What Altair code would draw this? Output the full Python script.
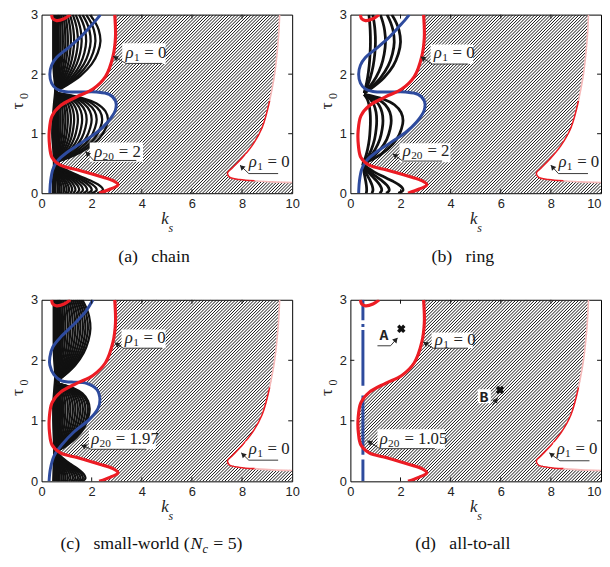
import altair as alt
import numpy as np
import pandas as pd

# ------------------------------------------------------------------ data
X_TICKS = [0, 2, 4, 6, 8, 10]
Y_TICKS = [0, 1, 2, 3]

# rho_1 = 0 boundary (same in every panel)
RED_MAIN_KS = [2.3, 2.75, 3.05, 2.85, 2.35, 1.45, 0.75, 0.42, 0.32, 0.31, 0.42, 0.75, 1.4, 2.05, 2.55, 2.85, 2.95, 2.92]
RED_MAIN_TAU = [0.0, 0.07, 0.14, 0.21, 0.28, 0.39, 0.47, 0.60, 0.80, 1.05, 1.30, 1.47, 1.62, 1.75, 1.96, 2.30, 2.62, 3.0]
RED_LOBE_KS = [0.4, 0.45, 0.6, 0.9, 1.15]
RED_LOBE_TAU = [3.0, 2.93, 2.9, 2.93, 3.0]
RED_RIGHT_KS = [9.5, 9.45, 9.3, 9.1, 8.8, 8.4, 7.95, 7.6, 7.42, 7.5, 7.9, 8.5, 9.2, 10.0]
RED_RIGHT_TAU = [3.0, 2.6, 2.0, 1.55, 1.1, 0.8, 0.57, 0.42, 0.34, 0.27, 0.23, 0.21, 0.19, 0.18]

# rho_20 curves
BLUE_AB_LOW_KS = [0.33, 0.36, 0.45, 0.65, 1.0, 1.6, 2.2, 2.65, 2.95, 2.95, 2.7, 2.2, 1.5, 0.9]
BLUE_AB_LOW_TAU = [0.0, 0.2, 0.4, 0.55, 0.68, 0.85, 1.02, 1.2, 1.4, 1.55, 1.66, 1.7, 1.7, 1.71]
BLUE_AB_UP_KS = [0.9, 0.6, 0.4, 0.33, 0.4, 0.6, 1.0, 1.5, 1.9, 2.2, 2.35]
BLUE_AB_UP_TAU = [1.71, 1.75, 1.85, 2.0, 2.15, 2.28, 2.42, 2.6, 2.78, 2.92, 3.0]
BLUE_C_LOW_KS = [0.3, 0.35, 0.5, 0.8, 1.3, 1.9, 2.25, 2.33, 2.2, 1.8, 1.2, 0.8]
BLUE_C_LOW_TAU = [0.0, 0.2, 0.42, 0.6, 0.82, 1.02, 1.2, 1.35, 1.52, 1.62, 1.64, 1.66]
BLUE_C_UP_KS = [0.8, 0.5, 0.33, 0.33, 0.45, 0.8, 1.3, 1.75, 2.05]
BLUE_C_UP_TAU = [1.66, 1.76, 1.92, 2.05, 2.22, 2.4, 2.6, 2.8, 3.0]
BLUE_D_KS = 0.5
BLUE_D_SEGS = [(0.0, 0.36), (0.44, 1.42), (1.58, 2.5), (2.55, 2.6), (2.66, 3.0)]

# black rho_i curves: arc shapes and bulge extents per panel
PB_S = [0, 0.15, 0.3, 0.45, 0.6, 0.72, 0.82, 0.9, 0.96, 1.0]
PB_F = [0, 0.12, 0.3, 0.52, 0.75, 0.9, 0.98, 1.0, 0.95, 0.88]
PM_S = [0, 0.08, 0.2, 0.35, 0.5, 0.62, 0.74, 0.85, 0.93, 1.0]
PM_F = [0, 0.3, 0.6, 0.84, 0.96, 1.0, 0.95, 0.78, 0.5, 0.0]
PT_S = [0, 0.08, 0.2, 0.35, 0.5, 0.65, 0.8, 0.9, 1.0]
PT_F = [0, 0.25, 0.55, 0.8, 0.94, 1.0, 0.96, 0.88, 0.76]

ARCS = {
    "a": dict(bot_node=(0.55, 0.52), mid_nodes=((0.55, 0.52), (0.6, 1.68)), top_node=(0.6, 1.72),
              bot=[0.65, 0.72, 0.8, 0.9, 1.0, 1.1, 1.22, 1.35, 1.5, 1.65, 1.82, 2.0, 2.2, 2.45],
              mid=[0.68, 0.76, 0.85, 0.95, 1.05, 1.17, 1.3, 1.45, 1.62, 1.8, 2.0, 2.2, 2.42, 2.65],
              top=[0.68, 0.76, 0.85, 0.95, 1.05, 1.17, 1.3, 1.45, 1.6, 1.78, 1.96, 2.15, 2.35]),
    "b": dict(bot_node=(0.5, 0.5), mid_nodes=((0.5, 0.5), (0.55, 1.66)), top_node=(0.55, 1.68),
              bot=[0.65, 0.9, 1.25, 1.55, 2.1],
              mid=[0.8, 1.05, 1.3, 1.63, 2.1],
              top=[0.8, 1.0, 1.4, 1.75, 2.0]),
    "c": dict(bot_node=(0.6, 0.5), mid_nodes=((0.6, 0.5), (0.6, 1.62)), top_node=(0.6, 1.65),
              bot=[0.65, 0.72, 0.8, 0.88, 0.96, 1.05, 1.15, 1.25, 1.35, 1.45, 1.55, 1.65, 1.75],
              mid=[0.7, 0.78, 0.86, 0.95, 1.05, 1.15, 1.25, 1.35, 1.45, 1.55, 1.65, 1.75, 1.85, 1.92],
              top=[0.7, 0.78, 0.86, 0.95, 1.05, 1.15, 1.25, 1.35, 1.45, 1.55, 1.65, 1.75, 1.85, 1.95]),
}
COL_TAU = [0, 0.25, 0.5, 0.75, 1.0, 1.25, 1.5, 1.75, 2.0, 2.25, 2.5, 2.75, 3.0]
COL_A_LEFT = [0.4, 0.42, 0.45, 0.42, 0.38, 0.4, 0.45, 0.5, 0.45, 0.42, 0.42, 0.42, 0.42]
COL_A_RIGHT = [0.6, 0.6, 0.6, 0.68, 0.72, 0.72, 0.7, 0.65, 0.68, 0.72, 0.72, 0.7, 0.68]
COL_C_LEFT = [0.42, 0.44, 0.46, 0.44, 0.42, 0.42, 0.46, 0.5, 0.46, 0.44, 0.44, 0.44, 0.44]
COL_C_RIGHT = [0.72, 0.74, 0.7, 0.78, 0.8, 0.8, 0.76, 0.72, 0.76, 0.8, 0.8, 0.78, 0.76]

# annotations: (subscript, rest, text pos, box, arrow head, arrow tail, underline end)
ANN = {
    "a": [("1", "= 0", (3.35, 2.35), (3.22, 4.95, 2.17, 2.52), (2.86, 2.30), (3.37, 2.18), 4.82),
          ("20", "= 2", (2.1, 0.69), (1.92, 4.05, 0.53, 0.85), (1.76, 0.70), (2.08, 0.55), 3.78),
          ("1", "= 0", (8.27, 0.53), (8.15, 9.85, 0.41, 0.66), (7.92, 0.47), (8.27, 0.33), 9.44)],
    "b": [("1", "= 0", (3.33, 2.35), (3.2, 4.9, 2.17, 2.5), (2.81, 2.29), (3.27, 2.17), 4.7),
          ("20", "= 2", (2.09, 0.70), (1.96, 3.99, 0.52, 0.84), (1.70, 0.66), (2.09, 0.54), 3.66),
          ("1", "= 0", (8.3, 0.53), (8.17, 9.8, 0.41, 0.65), (8.0, 0.47), (8.3, 0.33), 9.48)],
    "c": [("1", "= 0", (3.32, 2.36), (3.19, 4.95, 2.2, 2.51), (2.93, 2.29), (3.26, 2.2), 4.82),
          ("20", "= 1.97", (1.98, 0.70), (1.89, 4.56, 0.53, 0.85), (1.59, 0.6), (1.98, 0.53), 4.17),
          ("1", "= 0", (8.27, 0.54), (8.14, 9.83, 0.43, 0.66), (7.97, 0.47), (8.27, 0.35), 9.44)],
    "d": [("1", "= 0", (3.37, 2.33), (3.24, 4.88, 2.2, 2.46), (2.91, 2.30), (3.31, 2.2), 4.69),
          ("20", "= 1.05", (1.17, 0.70), (1.08, 3.77, 0.54, 0.86), (0.68, 0.67), (1.17, 0.54), 3.37),
          ("1", "= 0", (8.23, 0.54), (8.1, 9.8, 0.43, 0.64), (7.94, 0.47), (8.36, 0.34), 9.54)],
}
LETTERS_D = [("A", (1.34, 2.42), (1.08, 1.6, 2.31, 2.53), (1.88, 2.37), (1.6, 2.24), 1.08),
             ("B", (5.33, 1.40), (5.08, 5.6, 1.29, 1.52), (5.87, 1.38), (5.67, 1.26), 5.67)]
CROSS_KS = [2.03, 5.97]
CROSS_TAU = [2.52, 1.51]

CAPTIONS = {"a": "(a)\u2002 chain", "b": "(b)\u2002 ring", "d": "(d)\u2002 all-to-all"}

# ------------------------------------------------------------------ style
SERIF = "Liberation Serif"
SANS = "Liberation Sans"
RED = "#ec1c24"
BLUE = "#2e4b9e"
W = 254
H_ROW = {1: 181, 2: 184}
SX = alt.Scale(domain=[0, 10], nice=False, zero=False)
SY = alt.Scale(domain=[0, 3], nice=False, zero=False)


def pts(xs, ys, cid=0):
    return [dict(cid=cid, i=i, x=x, y=y) for i, (x, y) in enumerate(zip(xs, ys))]


def inside(xs, ys, poly):
    poly = np.asarray(poly, float)
    res = np.zeros(xs.shape, bool)
    n = len(poly)
    j = n - 1
    for i in range(n):
        xi, yi = poly[i]
        xj, yj = poly[j]
        cond = (yi > ys) != (yj > ys)
        xint = (xj - xi) * (ys - yi) / ((yj - yi) if yj != yi else 1e-12) + xi
        res ^= cond & (xs < xint)
        j = i
    return res


def hatch_df(Wp, Hp, excl):
    region = list(zip(RED_MAIN_KS, RED_MAIN_TAU)) + list(zip(RED_RIGHT_KS, RED_RIGHT_TAU)) + [(10.0, 0.0)]
    rows = []
    step = 3.2
    for c in np.arange(-Hp + step / 2, Wp, step):
        lo, hi = max(0.0, c), min(Wp, c + Hp)
        if hi - lo < 1:
            continue
        px = np.arange(lo, hi + 0.01, 0.5)
        py = px - c
        xs = px / Wp * 10
        ys = py / Hp * 3
        m = inside(xs, ys, region)
        if excl is not None:
            m &= ~inside(xs, ys, excl)
        mm = np.concatenate([[False], m, [False]]).astype(int)
        d = np.diff(mm)
        starts = np.where(d == 1)[0]
        ends = np.where(d == -1)[0] - 1
        for s, e in zip(starts, ends):
            if e > s:
                rows.append(dict(x1=xs[s], y1=ys[s], x2=xs[e], y2=ys[e]))
    return pd.DataFrame(rows)


def arcs_df(spec):
    rows = []
    cid = 0
    bx, bt = spec["bot_node"]
    for b in spec["bot"]:
        for i, (s, f) in enumerate(zip(PB_S, PB_F)):
            rows.append(dict(cid=cid, i=i, x=bx + (b - bx) * f, y=bt * (1 - s)))
        cid += 1
    (m1x, m1t), (m2x, m2t) = spec["mid_nodes"]
    for b in spec["mid"]:
        for i, (s, f) in enumerate(zip(PM_S, PM_F)):
            base = m1x + (m2x - m1x) * s
            rows.append(dict(cid=cid, i=i, x=base + (b - base) * f, y=m1t + (m2t - m1t) * s))
        cid += 1
    tx, tt = spec["top_node"]
    for b in spec["top"]:
        for i, (s, f) in enumerate(zip(PT_S, PT_F)):
            rows.append(dict(cid=cid, i=i, x=tx + (b - tx) * f, y=tt + (3 - tt) * s))
        cid += 1
    return pd.DataFrame(rows)


def panel(key, H, right_col):
    lab_align = {"expr": "datum.value == 10 ? 'right' : 'center'"} if right_col else "center"
    ax = alt.Axis(values=X_TICKS, title=None, grid=False, domain=False, ticks=False,
                  labelFont=SANS, labelFontSize=13, labelPadding=4, labelColor="#222",
                  labelAlign=lab_align)
    ay = alt.Axis(values=Y_TICKS, title=None, grid=False, domain=False, ticks=False,
                  labelFont=SANS, labelFontSize=13, labelPadding=4, labelColor="#222")

    def X(f):
        return alt.X(f, type="quantitative", scale=SX, axis=ax)

    def Y(f):
        return alt.Y(f, type="quantitative", scale=SY, axis=ay)

    layers = []
    # hatch
    if key in ("a", "b"):
        excl = list(zip(BLUE_AB_LOW_KS, BLUE_AB_LOW_TAU)) + [(0.0, BLUE_AB_LOW_TAU[-1]), (0.0, 0.0)]
    elif key == "c":
        excl = list(zip(BLUE_C_LOW_KS, BLUE_C_LOW_TAU)) + [(0.0, BLUE_C_LOW_TAU[-1]), (0.0, 0.0)]
    else:
        excl = None
    hd = hatch_df(W, H, excl)
    layers.append(alt.Chart(hd).mark_rule(color="#111", strokeWidth=1.0, clip=True).encode(
        x=X("x1"), y=Y("y1"), x2="x2:Q", y2="y2:Q"))

    # black column and arcs
    if key in ("a", "c"):
        left, right = (COL_A_LEFT, COL_A_RIGHT) if key == "a" else (COL_C_LEFT, COL_C_RIGHT)
        cd = pd.DataFrame(dict(t=COL_TAU, l=left, r=right))
        layers.append(alt.Chart(cd).mark_area(orient="horizontal", color="#111", clip=True,
                                              interpolate="monotone").encode(
            y=Y("t"), x=X("l"), x2="r:Q"))
    if key in ARCS:
        ad = arcs_df(ARCS[key])
        layers.append(alt.Chart(ad).mark_line(color="#111", strokeWidth=2.8 if key == "b" else 2.3,
                                              interpolate="catmull-rom", clip=True).encode(
            x=X("x"), y=Y("y"), detail="cid:N", order="i:Q"))

    # blue
    if key in ("a", "b"):
        bd = pd.DataFrame(pts(BLUE_AB_LOW_KS + BLUE_AB_UP_KS[1:], BLUE_AB_LOW_TAU + BLUE_AB_UP_TAU[1:]))
    elif key == "c":
        bd = pd.DataFrame(pts(BLUE_C_LOW_KS + BLUE_C_UP_KS[1:], BLUE_C_LOW_TAU + BLUE_C_UP_TAU[1:]))
    else:
        bd = None
    if bd is not None:
        layers.append(alt.Chart(bd).mark_line(color=BLUE, strokeWidth=3, interpolate="catmull-rom",
                                              clip=True).encode(
            x=X("x"), y=Y("y"), detail="cid:N", order="i:Q"))
    else:
        sd = pd.DataFrame([dict(x=BLUE_D_KS, y1=a, y2=b) for a, b in BLUE_D_SEGS])
        layers.append(alt.Chart(sd).mark_rule(color=BLUE, strokeWidth=3, clip=True).encode(
            x=X("x"), y=Y("y1"), y2="y2:Q"))

    # red
    rd = pd.DataFrame(pts(RED_MAIN_KS, RED_MAIN_TAU, 0) + pts(RED_LOBE_KS, RED_LOBE_TAU, 1))
    layers.append(alt.Chart(rd).mark_line(color=RED, strokeWidth=3.2, interpolate="catmull-rom",
                                          clip=True).encode(
        x=X("x"), y=Y("y"), detail="cid:N", order="i:Q"))
    light = pd.DataFrame(pts(RED_RIGHT_KS[:4], RED_RIGHT_TAU[:4], 0) + pts(RED_RIGHT_KS[11:], RED_RIGHT_TAU[11:], 1))
    layers.append(alt.Chart(light).mark_line(color="#f6b9b9", strokeWidth=1.6, interpolate="catmull-rom",
                                             clip=True).encode(
        x=X("x"), y=Y("y"), detail="cid:N", order="i:Q"))
    strong = pd.DataFrame(pts(RED_RIGHT_KS[3:12], RED_RIGHT_TAU[3:12], 0))
    layers.append(alt.Chart(strong).mark_line(color=RED, strokeWidth=1.6, interpolate="catmull-rom",
                                              clip=True).encode(
        x=X("x"), y=Y("y"), detail="cid:N", order="i:Q"))

    # annotations
    anns = ANN[key]
    letters = LETTERS_D if key == "d" else []
    boxes, segs, heads, t_rho, t_sub, t_rest, t_let = [], [], [], [], [], [], []
    for (sub, rest, (tx, ty), (bx1, bx2, by1, by2), head, tail, uend) in anns:
        boxes.append(dict(x1=bx1, x2=bx2, y1=by1, y2=by2))
        segs.append(dict(x1=head[0], y1=head[1], x2=tail[0], y2=tail[1]))
        segs.append(dict(x1=tail[0], y1=tail[1], x2=uend, y2=tail[1]))
        heads.append((head, tail))
        t_rho.append(dict(x=tx, y=ty, t="\u03c1"))
        t_sub.append(dict(x=tx + 8.5 * 10 / W, y=ty, t=sub))
        t_rest.append(dict(x=tx + (8.5 + 6.0 * len(sub) + 4.5) * 10 / W, y=ty, t=rest))
    for (letter, (tx, ty), (bx1, bx2, by1, by2), head, tail, uend) in letters:
        boxes.append(dict(x1=bx1, x2=bx2, y1=by1, y2=by2))
        segs.append(dict(x1=head[0], y1=head[1], x2=tail[0], y2=tail[1]))
        if uend != tail[0]:
            segs.append(dict(x1=tail[0], y1=tail[1], x2=uend, y2=tail[1]))
        heads.append((head, tail))
        t_let.append(dict(x=tx, y=ty, t=letter))
    hrows = []
    for (hx, hy), (tx, ty) in heads:
        dxp = (hx - tx) * W / 10
        dyp = -(hy - ty) * H / 3
        L = float(np.hypot(dxp, dyp))
        ux, uy = dxp / L, dyp / L
        ang = float(np.degrees(np.arctan2(ux, -uy)) % 360)
        hrows.append(dict(x=hx - 3.2 * ux * 10 / W, y=hy + 3.2 * uy * 3 / H, ang=ang))

    layers.append(alt.Chart(pd.DataFrame(boxes)).mark_rect(color="white").encode(
        x=X("x1"), x2="x2:Q", y=Y("y1"), y2="y2:Q"))
    layers.append(alt.Chart(pd.DataFrame(segs)).mark_rule(color="#222", strokeWidth=0.9).encode(
        x=X("x1"), y=Y("y1"), x2="x2:Q", y2="y2:Q"))
    layers.append(alt.Chart(pd.DataFrame(hrows)).mark_point(shape="triangle", filled=True, size=34,
                                                           color="#222", opacity=1).encode(
        x=X("x"), y=Y("y"), angle=alt.Angle("ang:Q", scale=None)))
    layers.append(alt.Chart(pd.DataFrame(t_rho)).mark_text(font=SERIF, fontSize=17, fontStyle="italic",
                                                          align="left", baseline="middle", color="#222").encode(
        x=X("x"), y=Y("y"), text="t:N"))
    layers.append(alt.Chart(pd.DataFrame(t_sub)).mark_text(font=SERIF, fontSize=11.5, align="left",
                                                          baseline="middle", dy=5, color="#222").encode(
        x=X("x"), y=Y("y"), text="t:N"))
    layers.append(alt.Chart(pd.DataFrame(t_rest)).mark_text(font=SERIF, fontSize=17, align="left",
                                                           baseline="middle", color="#222").encode(
        x=X("x"), y=Y("y"), text="t:N"))
    if t_let:
        layers.append(alt.Chart(pd.DataFrame(t_let)).mark_text(font="Liberation Mono", fontSize=15,
                                                              fontWeight="bold", align="center",
                                                              baseline="middle", color="#222").encode(
            x=X("x"), y=Y("y"), text="t:N"))
        cr = pd.DataFrame(dict(x=CROSS_KS, y=CROSS_TAU))
        layers.append(alt.Chart(cr).mark_point(shape="cross", angle=45, filled=True, size=75,
                                               color="#111", opacity=1).encode(x=X("x"), y=Y("y")))

    # inward ticks
    tk = 4.0
    trows = []
    for v in X_TICKS[1:-1]:
        trows.append(dict(x1=v, x2=v, y1=0, y2=tk * 3 / H))
        trows.append(dict(x1=v, x2=v, y1=3, y2=3 - tk * 3 / H))
    for v in Y_TICKS[1:-1]:
        trows.append(dict(x1=0, x2=tk * 10 / W, y1=v, y2=v))
        trows.append(dict(x1=10, x2=10 - tk * 10 / W, y1=v, y2=v))
    layers.append(alt.Chart(pd.DataFrame(trows)).mark_rule(color="#111", strokeWidth=1).encode(
        x=X("x1"), y=Y("y1"), x2="x2:Q", y2="y2:Q"))

    # axis titles
    one = pd.DataFrame({"a": [0]})
    layers.append(alt.Chart(one).mark_text(font=SERIF, fontSize=17, fontStyle="italic", text="k",
                                           align="center", baseline="middle", color="#222").encode(
        x=alt.value(W / 2 - 2), y=alt.value(H + 26)))
    layers.append(alt.Chart(one).mark_text(font=SERIF, fontSize=12, fontStyle="italic", text="s",
                                           align="center", baseline="middle", color="#222").encode(
        x=alt.value(W / 2 + 4), y=alt.value(H + 35)))
    layers.append(alt.Chart(one).mark_text(font=SERIF, fontSize=18, text="\u03c4", angle=270,
                                           align="center", baseline="middle", color="#222").encode(
        x=alt.value(-24), y=alt.value(H / 2 + 2)))
    layers.append(alt.Chart(one).mark_text(font=SERIF, fontSize=12, text="0", angle=270,
                                           align="center", baseline="middle", color="#222").encode(
        x=alt.value(-18), y=alt.value(H / 2 - 8)))

    # caption
    cy = H + (65 if H == H_ROW[1] else 64)
    cx = W / 2 - 13
    if key != "c":
        layers.append(alt.Chart(one).mark_text(font=SERIF, fontSize=18, text=CAPTIONS[key],
                                               align="center", baseline="middle", color="#111").encode(
            x=alt.value(cx), y=alt.value(cy)))
    else:
        xn = cx + 36
        layers.append(alt.Chart(one).mark_text(font=SERIF, fontSize=18, text="(c)\u2002 small-world (",
                                               align="right", baseline="middle", color="#111").encode(
            x=alt.value(xn), y=alt.value(cy)))
        layers.append(alt.Chart(one).mark_text(font=SERIF, fontSize=18, fontStyle="italic", text="N",
                                               align="left", baseline="middle", color="#111").encode(
            x=alt.value(xn + 1), y=alt.value(cy)))
        layers.append(alt.Chart(one).mark_text(font=SERIF, fontSize=12.5, fontStyle="italic", text="c",
                                               align="left", baseline="middle", color="#111").encode(
            x=alt.value(xn + 13), y=alt.value(cy + 5)))
        layers.append(alt.Chart(one).mark_text(font=SERIF, fontSize=18, text="= 5)",
                                               align="left", baseline="middle", color="#111").encode(
            x=alt.value(xn + 24), y=alt.value(cy)))

    return alt.layer(*layers).properties(width=W, height=H)


pa = panel("a", H_ROW[1], False)
pb = panel("b", H_ROW[1], True)
pc = panel("c", H_ROW[2], False)
pdd = panel("d", H_ROW[2], True)

chart = alt.concat(pa, pb, pc, pdd, columns=2, spacing={"row": 108, "column": 59},
                   bounds="flush").properties(
    padding={"left": 0, "top": -4, "right": 0, "bottom": 0}, background="white"
).configure_view(stroke="black", strokeWidth=1)

chart.save("out.html", embed_options={"renderer": "svg", "actions": False})
